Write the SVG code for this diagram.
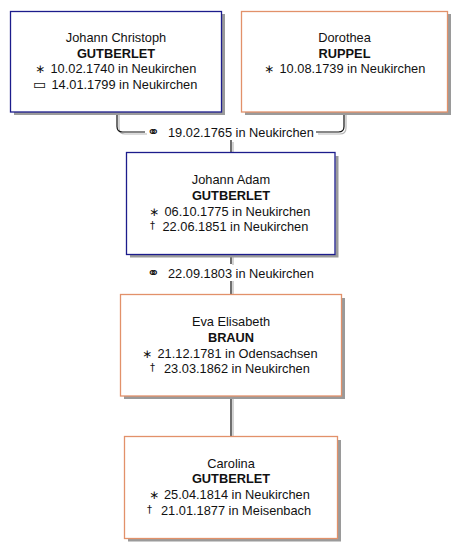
<svg xmlns="http://www.w3.org/2000/svg" width="467" height="558" viewBox="0 0 467 558">
<style>
.m{fill:#fff;stroke:#1c1c8c;stroke-width:1.3}
.f{fill:#fff;stroke:#e2916a;stroke-width:1.3}
.sh{fill:none;stroke:#9a9a9a;stroke-width:3}
text{font-family:"Liberation Sans",Arial,sans-serif;font-size:12.8px;fill:#111}
.c{text-anchor:middle}
.b{font-weight:bold}
.sym{font-family:"DejaVu Sans",sans-serif;font-size:12px}
.mar{font-family:"DejaVu Sans",sans-serif;font-size:15px}
.ln{fill:none;stroke:#111;stroke-width:1.2}
.lns{fill:none;stroke:#b8b8b8;stroke-width:1.2}
</style>
<rect width="467" height="558" fill="#fff"/>
<g id="connectors">
<path class="lns" d="M119 112 V128 Q119 134 125 134 H147 M318 134 H340 Q346 134 346 128 V112 M233 142 V152 M233 254 V265 M233 281 V294 M233 396 V436"/>
<path class="ln" d="M117 112 V126.5 Q117 132 122.5 132 H145 M316 132 H338.5 Q344 132 344 126.5 V112 M231 140 V152 M231 254 V264 M231 281 V294 M231 396 V436"/>
<text class="mar" x="147" y="137">⚭</text>
<text x="168" y="136.5">19.02.1765 in Neukirchen</text>
<text class="mar" x="147" y="278">⚭</text>
<text x="168" y="277.5">22.09.1803 in Neukirchen</text>
</g>
<g id="n1">
<path class="sh" d="M14 113.5 H223.5 V14"/>
<rect class="m" x="10.5" y="11.5" width="211" height="100.5"/>
<text class="c" x="116" y="42">Johann Christoph</text>
<text class="c b" x="116" y="57.5">GUTBERLET</text>
<text class="sym" x="35" y="73">∗</text>
<text x="50.5" y="73">10.02.1740 in Neukirchen</text>
<text class="sym" x="33" y="89" style="font-size:14px">▭</text>
<text x="51.5" y="88.5">14.01.1799 in Neukirchen</text>
</g>
<g id="n2">
<path class="sh" d="M245 113.5 H449.5 V14"/>
<rect class="f" x="241.5" y="11.5" width="206" height="100.5"/>
<text class="c" x="344.5" y="42">Dorothea</text>
<text class="c b" x="344.5" y="57.5">RUPPEL</text>
<text class="sym" x="264" y="73">∗</text>
<text x="279.5" y="73">10.08.1739 in Neukirchen</text>
</g>
<g id="n3">
<path class="sh" d="M130 256 H337 V156"/>
<rect class="m" x="126.5" y="152.5" width="208.5" height="102"/>
<text class="c" x="231" y="184">Johann Adam</text>
<text class="c b" x="231" y="200">GUTBERLET</text>
<text class="sym" x="149" y="215.5">∗</text>
<text x="164.5" y="215.5">06.10.1775 in Neukirchen</text>
<text class="sym" x="150" y="229" style="font-size:10px">†</text>
<text x="162.5" y="231">22.06.1851 in Neukirchen</text>
</g>
<g id="n4">
<path class="sh" d="M124 397.5 H343.5 V298"/>
<rect class="f" x="120.5" y="294.5" width="221" height="101.5"/>
<text class="c" x="231" y="326">Eva Elisabeth</text>
<text class="c b" x="231" y="341.5">BRAUN</text>
<text class="sym" x="142" y="357.5">∗</text>
<text x="157.5" y="357.5">21.12.1781 in Odensachsen</text>
<text class="sym" x="150" y="370.5" style="font-size:10px">†</text>
<text x="164" y="372.5">23.03.1862 in Neukirchen</text>
</g>
<g id="n5">
<path class="sh" d="M128 540 H339.5 V440"/>
<rect class="f" x="124.5" y="436.5" width="213" height="102"/>
<text class="c" x="231" y="467.5">Carolina</text>
<text class="c b" x="231" y="483">GUTBERLET</text>
<text class="sym" x="149" y="499">∗</text>
<text x="164" y="499">25.04.1814 in Neukirchen</text>
<text class="sym" x="147" y="512.5" style="font-size:10px">†</text>
<text x="161" y="514.5">21.01.1877 in Meisenbach</text>
</g>
</svg>
